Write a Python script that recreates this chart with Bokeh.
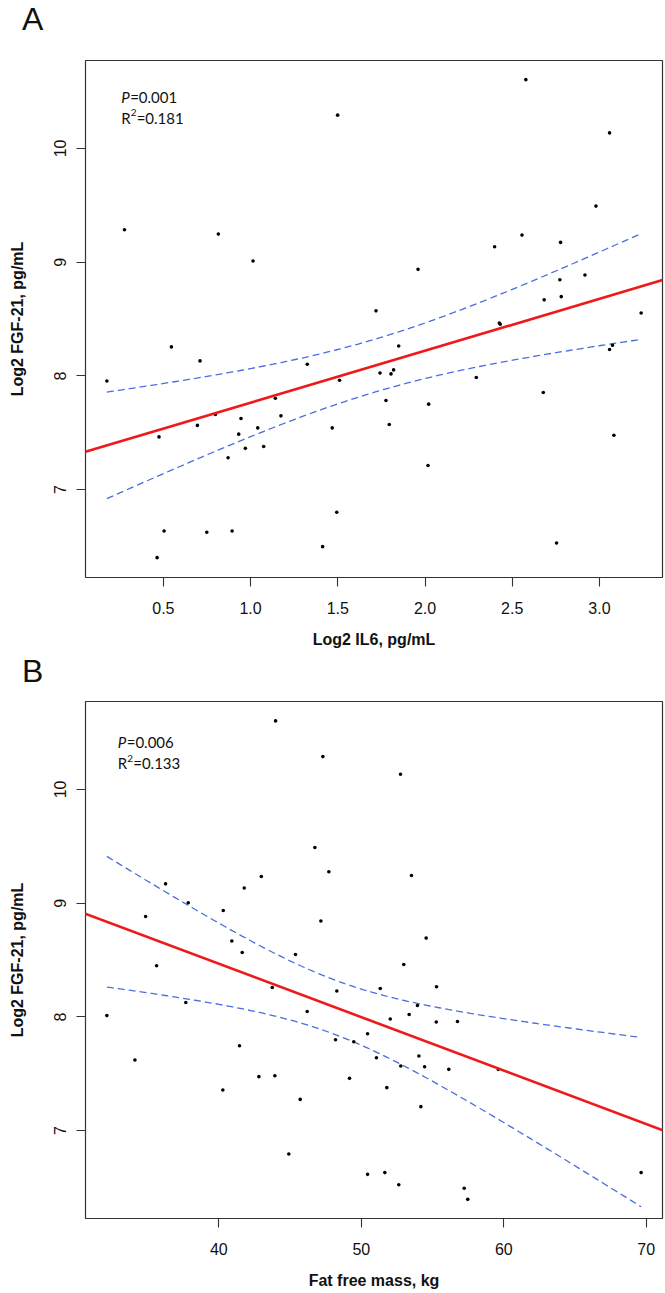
import numpy as np
from bokeh.plotting import figure
from bokeh.layouts import column
from bokeh.models import Label, Slope, Range1d, FixedTicker, PrintfTickFormatter, Div
from bokeh.embed import file_html
from bokeh.resources import INLINE

# ---------------- data ----------------
il6_log2 = [0.277, 0.815, 1.014, 1.499, 2.578, 3.058, 2.980, 2.556, 2.399, 2.777,
            1.960, 2.917, 2.773, 2.683, 2.781, 1.719, 3.239, 2.426, 2.431, 0.546,
            0.710, 1.325, 0.176, 1.510, 1.142, 0.798, 1.174, 0.945, 0.695, 1.041,
            1.468, 0.475, 0.932, 0.970, 1.075, 0.871, 1.494, 0.504, 0.749, 0.894,
            1.413, 0.464, 1.849, 3.058, 3.075, 1.742, 1.805, 1.820, 2.294, 2.678,
            1.776, 2.021, 1.795, 3.083, 2.017, 2.754]
fgf21_a = [9.285, 9.247, 9.010, 10.293, 10.605, 10.137, 9.493, 9.238, 9.136, 9.174,
           8.937, 8.887, 8.846, 8.669, 8.697, 8.572, 8.553, 8.465, 8.454, 8.255,
           8.132, 8.103, 7.956, 7.962, 7.804, 7.661, 7.649, 7.626, 7.565, 7.543,
           7.543, 7.464, 7.488, 7.363, 7.380, 7.280, 6.801, 6.636, 6.625, 6.636,
           6.499, 6.402, 8.263, 8.232, 8.270, 8.026, 8.018, 8.053, 7.986, 7.854,
           7.784, 7.752, 7.573, 7.479, 7.213, 6.531]

ffm_kg = [43.98, 47.30, 46.74, 47.72, 42.98, 36.26, 41.78, 37.85, 40.31, 34.86,
          47.16, 40.91, 45.38, 41.64, 35.63, 52.75, 53.52, 54.55, 52.98, 43.75,
          48.28, 37.68, 46.20, 32.14, 48.19, 41.45, 34.11, 42.81, 43.93, 40.28,
          45.71, 44.91, 51.33, 55.28, 53.94, 53.36, 52.03, 55.26, 56.75, 50.44,
          49.47, 51.06, 54.04, 52.77, 54.44, 56.14, 59.61, 49.17, 51.79, 54.18,
          50.44, 51.65, 52.63, 57.22, 57.47, 69.64]
fgf21_b = [10.603, 10.289, 9.489, 9.276, 9.235, 9.170, 9.133, 9.004, 8.936, 8.883,
           8.843, 8.667, 8.549, 8.567, 8.450, 10.134, 9.243, 8.693, 8.461, 8.259,
           8.228, 8.127, 8.048, 8.013, 7.800, 7.747, 7.621, 7.475, 7.483, 7.358,
           7.275, 6.795, 8.250, 8.265, 8.101, 8.022, 7.982, 7.955, 7.960, 7.852,
           7.782, 7.641, 7.656, 7.569, 7.562, 7.539, 7.539, 7.460, 7.378, 7.211,
           6.616, 6.631, 6.525, 6.493, 6.396, 6.631]

a_xticks = [0.5, 1.0, 1.5, 2.0, 2.5, 3.0]
b_xticks = [40, 50, 60, 70]
y_ticks = [7, 8, 9, 10]
a_stats = ("0.001", "0.181")
b_stats = ("0.006", "0.133")

T_CRIT = 2.005  # t(0.975, df = n - 2)

AX_FONT = "Liberation Sans"
TXT_FONT = "Lato"
FRAME_W = 577
FRAME_H = 517
FIG_W = 664


def letter_div(letter, height, top):
    html = ('<div style="position:relative; left:22px; top:%dpx; '
            'font-family:\'Liberation Sans\', Arial, sans-serif; font-size:32px; '
            'line-height:32px; color:#111111;">%s</div>' % (top, letter))
    return Div(text=html, width=FIG_W, height=height, margin=(0, 0, 0, 0))


def make_panel(x, y, xticks, xfmt, xlabel, stats, txt_x, txt_y1, txt_y2,
               top_border, bottom_border):
    x = np.asarray(x, float)
    y = np.asarray(y, float)
    n = len(x)
    xr = x.max() - x.min()
    ymin = min(np.min(fgf21_a), np.min(fgf21_b))
    ymax = max(np.max(fgf21_a), np.max(fgf21_b))
    yr = ymax - ymin

    p = figure(frame_width=FRAME_W, frame_height=FRAME_H,
               x_range=Range1d(x.min() - 0.04 * xr, x.max() + 0.04 * xr),
               y_range=Range1d(ymin - 0.04 * yr, ymax + 0.04 * yr),
               output_backend="svg", toolbar_location=None,
               min_border_left=85, min_border_right=2,
               min_border_top=top_border, min_border_bottom=bottom_border,
               background_fill_color="white", border_fill_color="white")
    p.grid.visible = False
    p.outline_line_color = "#333333"
    p.outline_line_width = 1.2

    for ax in (p.xaxis[0], p.yaxis[0]):
        ax.axis_line_color = None
        ax.major_tick_line_color = "#333333"
        ax.major_tick_line_width = 1.1
        ax.major_tick_out = 9
        ax.major_tick_in = 0
        ax.minor_tick_line_color = None
        ax.major_label_text_font = AX_FONT
        ax.major_label_text_font_size = "16px"
        ax.major_label_text_color = "#111111"
        ax.axis_label_text_font = AX_FONT
        ax.axis_label_text_font_size = "16px"
        ax.axis_label_text_font_style = "bold"
        ax.axis_label_text_color = "#111111"

    p.xaxis.ticker = FixedTicker(ticks=xticks)
    p.xaxis.formatter = PrintfTickFormatter(format=xfmt)
    p.xaxis.axis_label = xlabel
    p.xaxis.major_label_standoff = 15
    p.xaxis.axis_label_standoff = 14

    p.yaxis.ticker = FixedTicker(ticks=y_ticks)
    p.yaxis.formatter = PrintfTickFormatter(format="%d")
    p.yaxis.axis_label = "Log2 FGF-21, pg/mL"
    p.yaxis.major_label_orientation = "vertical"
    p.yaxis.major_label_standoff = 10
    p.yaxis.axis_label_standoff = 26

    # linear regression with 95% confidence band
    b1, b0 = np.polyfit(x, y, 1)
    resid = y - (b0 + b1 * x)
    s = np.sqrt(np.sum(resid ** 2) / (n - 2))
    xbar = x.mean()
    sxx = np.sum((x - xbar) ** 2)
    xs = np.linspace(x.min(), x.max(), 120)
    fit = b0 + b1 * xs
    half = T_CRIT * s * np.sqrt(1.0 / n + (xs - xbar) ** 2 / sxx)

    p.line(xs, fit + half, line_color="#4a6fdc", line_width=1.3, line_dash="7 4")
    p.line(xs, fit - half, line_color="#4a6fdc", line_width=1.3, line_dash="7 4")
    p.add_layout(Slope(gradient=b1, y_intercept=b0, line_color="#ee1a1a", line_width=2.6))

    p.scatter(x, y, size=3.6, fill_color="black", line_color=None)

    # statistics text
    common = dict(text_font=TXT_FONT, text_color="#111111", text_baseline="alphabetic")
    p.add_layout(Label(x=txt_x, y=txt_y1, text="P", text_font_style="italic",
                       text_font_size="15px", **common))
    p.add_layout(Label(x=txt_x, y=txt_y1, x_offset=9, text="=" + stats[0],
                       text_font_size="15px", **common))
    p.add_layout(Label(x=txt_x, y=txt_y2, text="R", text_font_size="15px", **common))
    p.add_layout(Label(x=txt_x, y=txt_y2, x_offset=9.5, y_offset=5, text="2",
                       text_font_size="10px", **common))
    p.add_layout(Label(x=txt_x, y=txt_y2, x_offset=15.5, text="=" + stats[1],
                       text_font_size="15px", **common))
    return p


divA = letter_div("A", 40, 3)
pA = make_panel(il6_log2, fgf21_a, a_xticks, "%.1f", "Log2 IL6, pg/mL", a_stats,
                0.258, 10.455, 10.272, top_border=20, bottom_border=73)
divB = letter_div("B", 40, 5)
pB = make_panel(ffm_kg, fgf21_b, b_xticks, "%d", "Fat free mass, kg", b_stats,
                32.9, 10.42, 10.23, top_border=11, bottom_border=74)

layout = column(divA, pA, divB, pB, spacing=0)
open("out.html", "w").write(file_html(layout, INLINE))
